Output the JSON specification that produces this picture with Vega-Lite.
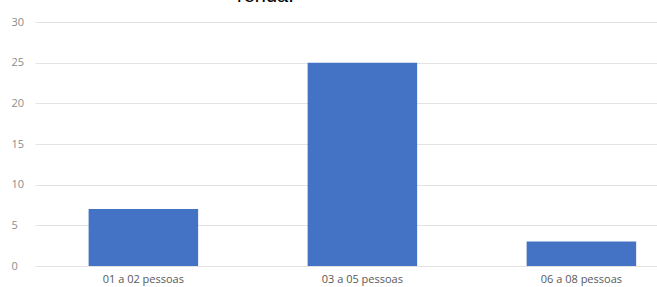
{
  "$schema": "https://vega.github.io/schema/vega-lite/v6.json",
  "autosize": "none",
  "width": 622,
  "height": 244,
  "padding": {"left": 35, "top": 22, "right": 0, "bottom": 21},
  "background": "white",
  "title": {
    "text": "renda.",
    "font": "Liberation Sans",
    "fontSize": 20,
    "fontWeight": "normal",
    "color": "#000000",
    "anchor": "start",
    "dx": 226,
    "baseline": "bottom",
    "offset": 0,
    "dy": 10
  },
  "data": {
    "values": [
      {"categoria": "01 a 02 pessoas", "valor": 7},
      {"categoria": "03 a 05 pessoas", "valor": 25},
      {"categoria": "06 a 08 pessoas", "valor": 3}
    ]
  },
  "mark": {"type": "bar", "color": "#4472C4"},
  "encoding": {
    "x": {
      "field": "categoria",
      "type": "nominal",
      "sort": null,
      "title": null,
      "scale": {"paddingInner": 0.5, "paddingOuter": 0.17, "align": 0.72},
      "axis": {
        "labelAngle": 0,
        "ticks": false,
        "domain": false,
        "grid": false,
        "labelFont": "Open Sans",
        "labelFontSize": 11,
        "labelColor": "#595959",
        "labelPadding": 7
      }
    },
    "y": {
      "field": "valor",
      "type": "quantitative",
      "title": null,
      "scale": {"domain": [0, 30], "nice": false},
      "axis": {
        "values": [0, 5, 10, 15, 20, 25, 30],
        "ticks": false,
        "domain": false,
        "grid": true,
        "gridColor": "#e3e3e3",
        "gridWidth": 1,
        "labelFont": "Open Sans",
        "labelFontSize": 11,
        "labelColor": "#8c8c8c",
        "labelAlign": "left",
        "labelPadding": 24
      }
    }
  },
  "config": {"view": {"stroke": null}}
}
